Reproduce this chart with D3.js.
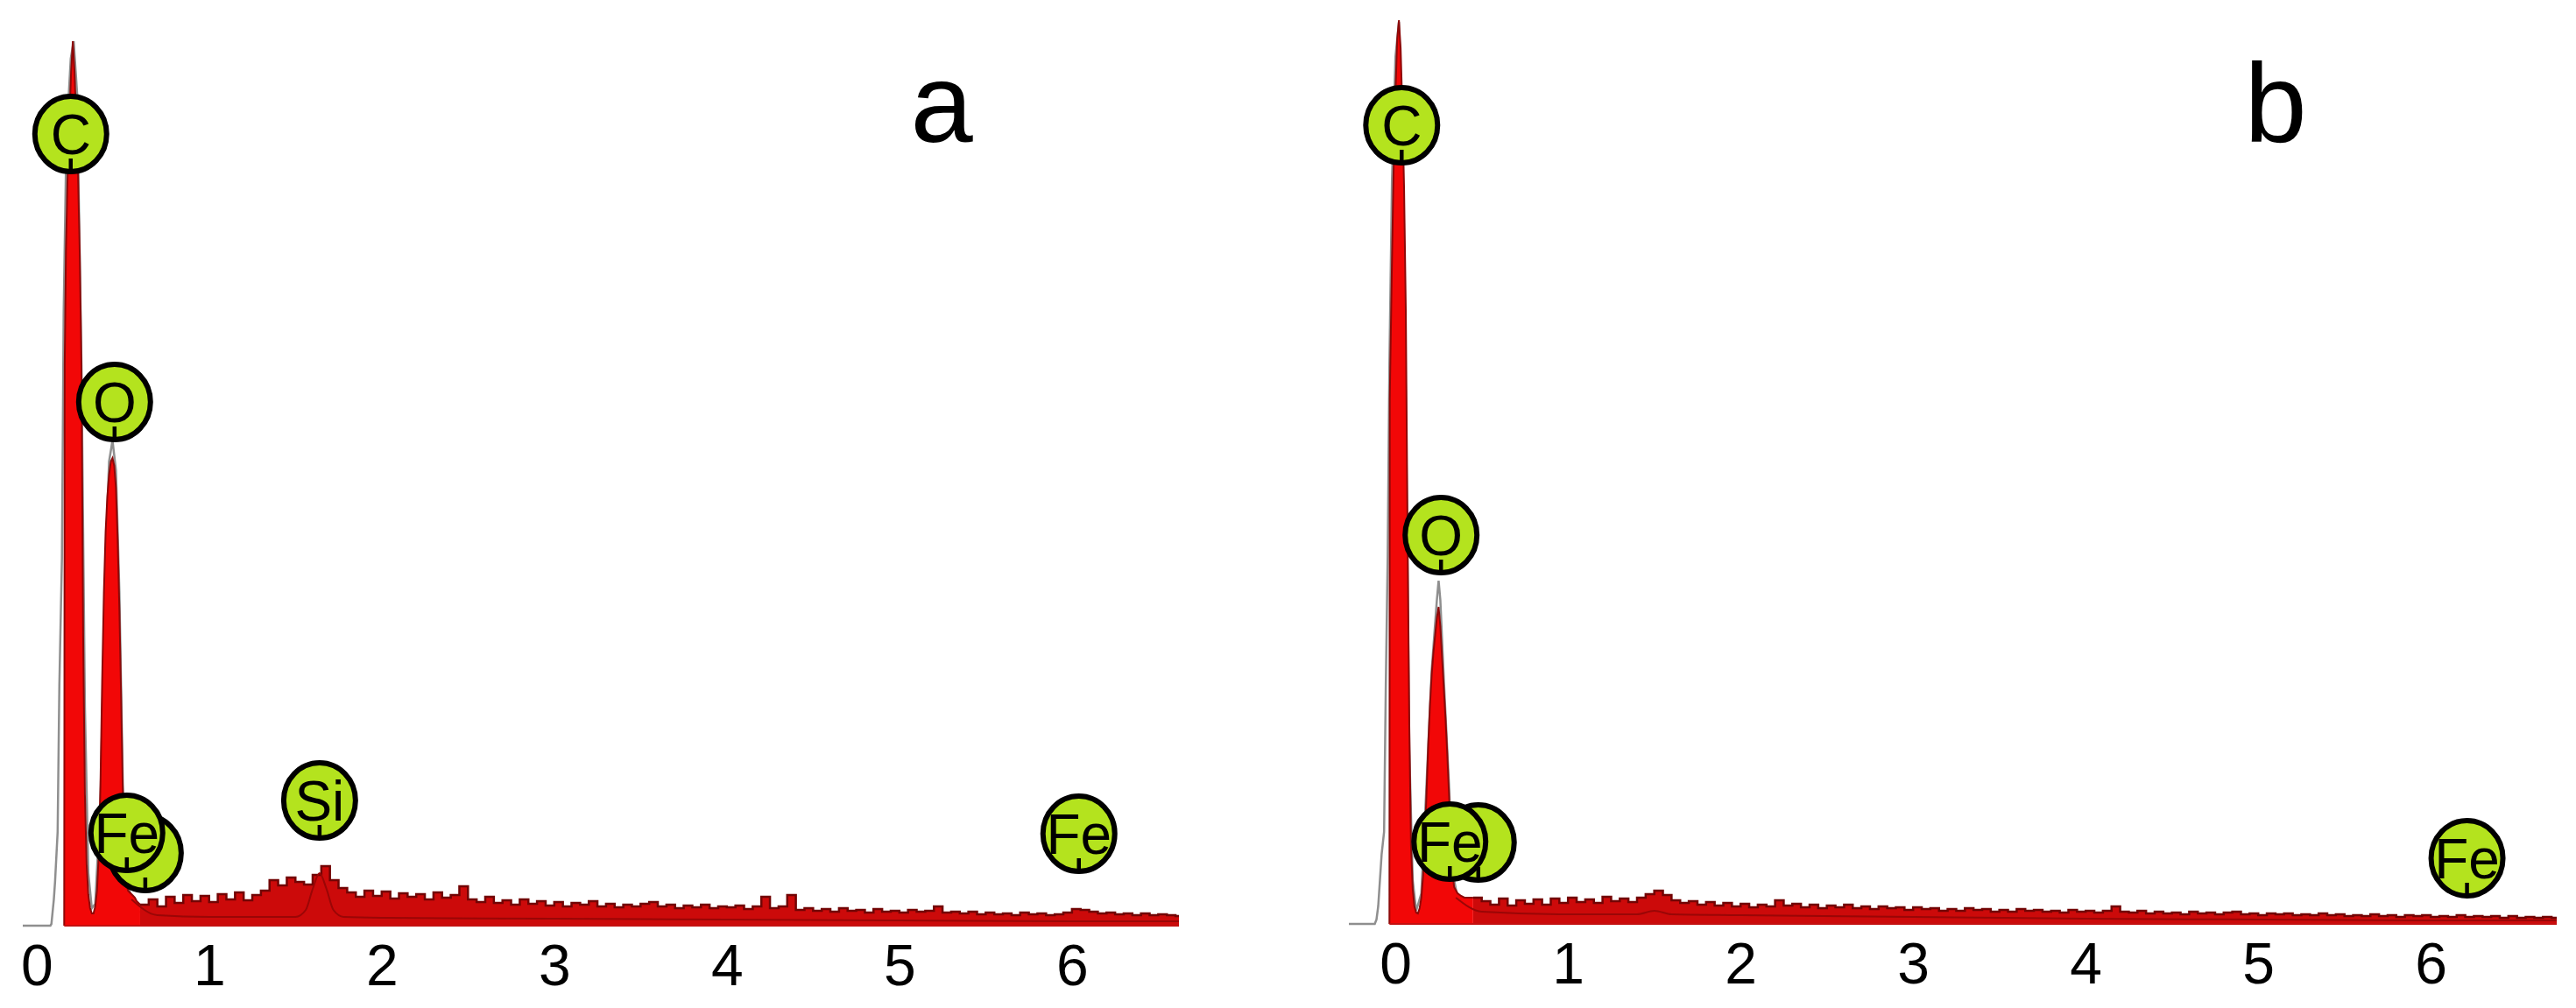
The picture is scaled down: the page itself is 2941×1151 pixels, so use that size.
<!DOCTYPE html>
<html>
<head>
<meta charset="utf-8">
<script src="https://cdn.jsdelivr.net/npm/d3@7"></script>
<style>
html,body{margin:0;padding:0;background:#fff;}
svg{display:block;}
</style>
</head>
<body>
<svg id="chart" width="2941" height="1151"></svg>
<script>
// ---------------- DATA ----------------
const tickValues = [0, 1, 2, 3, 4, 5, 6];
const tickLabels = ["0", "1", "2", "3", "4", "5", "6"];
const panelLetters = ["a", "b"];

// Panel a: peak region (keV, counts)
const peakA_E = [0.160,0.163,0.17,0.18,0.19,0.20,0.21,0.22,0.23,0.24,0.25,0.26,0.27,0.28,0.29,0.30,0.31,0.32,0.33,0.34,0.35,0.36,0.37,0.38,0.39,0.40,0.41,0.42,0.43,0.44,0.45,0.46,0.47,0.48,0.49,0.50,0.51,0.52,0.53,0.54,0.55,0.56,0.57,0.58,0.60];
const peakA_C = [0,640,770,860,920,975,1010,975,920,860,770,640,330,150,70,35,20,14,14,22,40,80,160,280,380,450,490,515,530,534,525,500,440,360,260,150,80,50,40,38,36,34,32,28,24];
// Panel a: background channels from 0.60 keV, 0.05 keV wide
const noiseA_start = 0.60, noiseA_end = 6.62;
const noiseA_C = [24,30,22,33,26,35,28,34,27,36,30,38,29,35,40,52,46,55,50,47,58,68,52,43,38,33,40,34,39,31,37,33,36,30,38,32,35,45,30,27,33,26,29,24,30,25,28,23,27,22,26,24,28,22,25,21,24,22,25,27,22,24,20,23,21,24,20,22,21,23,19,22,33,20,22,35,18,20,17,19,16,20,17,18,15,19,16,17,15,18,16,17,22,15,16,14,16,13,15,13,14,12,15,13,14,12,13,15,19,18,16,14,15,13,14,12,14,12,13,12,11];
// Panel a: grey reference trace
const greyA_E = [-0.08,0.08,0.086,0.10,0.107,0.122,0.132,0.147,0.157,0.173,0.198,0.215,0.235,0.26,0.28,0.30,0.32,0.34,0.37,0.40,0.42,0.44,0.46,0.48,0.50,0.53,0.57,0.60];
const greyA_C = [0,0,2,30,50,107,274,420,700,900,990,1010,950,640,250,60,20,25,140,420,530,554,520,380,160,45,20,15];
// Panel a: fitted background line
const fitA_E = [0.55,0.70,1.00,1.30,1.50,1.56,1.60,1.64,1.68,1.72,1.78,2.00,3.00,4.00,5.00,6.00,6.62];
const fitA_C = [30,12,10,10,10,18,42,60,42,18,10,9,8,7,6,5,5];

// Panel b: peak region
const peakB_E = [-0.035,-0.033,-0.02,-0.01,0.00,0.01,0.02,0.03,0.04,0.05,0.06,0.07,0.08,0.09,0.10,0.11,0.12,0.13,0.14,0.15,0.16,0.17,0.18,0.19,0.20,0.21,0.22,0.23,0.24,0.25,0.26,0.27,0.28,0.29,0.30,0.31,0.32,0.33,0.34,0.36,0.38,0.40,0.45];
const peakB_C = [0,600,760,870,950,1010,1032,1000,930,840,700,450,230,90,40,20,13,12,18,30,55,95,150,205,250,285,310,330,350,362,340,305,270,235,195,150,100,60,42,35,32,30,30];
const noiseB_start = 0.45, noiseB_end = 6.73;
const noiseB_C = [30,26,22,29,21,27,23,28,22,29,24,30,25,28,24,31,26,29,25,30,34,38,33,27,24,26,22,25,21,24,20,23,19,22,20,27,21,23,19,22,18,21,19,22,18,20,17,20,18,19,16,19,17,18,15,17,15,18,16,17,14,16,14,17,15,16,14,15,13,16,14,15,13,15,20,14,13,15,12,14,12,13,11,14,12,13,11,13,14,11,12,10,12,11,12,10,11,10,12,10,11,9,10,9,11,9,10,8,10,9,10,8,9,8,10,8,9,8,9,7,9,7,8,7,8,7];
const greyB_E = [-0.27,-0.12,-0.11,-0.10,-0.09,-0.08,-0.066,-0.056,-0.045,-0.035,-0.02,0.00,0.02,0.04,0.06,0.08,0.10,0.12,0.15,0.18,0.21,0.24,0.25,0.26,0.28,0.31,0.33,0.36,0.40];
const greyB_C = [0,0,5,20,50,80,105,272,420,640,850,990,1030,900,600,200,50,15,35,160,290,370,392,370,280,160,60,30,25];
const fitB_E = [0.35,0.50,1.00,1.40,1.50,1.60,2.00,3.00,4.00,5.00,6.00,6.73];
const fitB_C = [30,14,11,11,15,11,10,8,6,5,4,4];

// Element markers: element, energy (keV), count level of marker foot
const markA_el = ["C","O","","Fe","Si","Fe"];
const markA_E  = [0.198,0.452,0.63,0.523,1.64,6.04];
const markA_C  = [858,552,37,60,97,59];
const markB_el = ["C","O","","Fe","Fe"];
const markB_E  = [0.036,0.264,0.48,0.315,6.21];
const markB_C  = [866,398,47,48,29];

// ---------------- DRAW ----------------
const svg = d3.select("#chart");
const FONT = "'Liberation Sans', Arial, Helvetica, sans-serif";

const panels = [
  {letter: panelLetters[0], dom: [-0.08, 6.62], rng: [26, 1346], base: 1057, letterX: 1075,
   peakE: peakA_E, peakC: peakA_C, nStart: noiseA_start, nEnd: noiseA_end, noise: noiseA_C,
   greyE: greyA_E, greyC: greyA_C, fitE: fitA_E, fitC: fitA_C,
   mEl: markA_el, mE: markA_E, mC: markA_C},
  {letter: panelLetters[1], dom: [-0.27, 6.73], rng: [1540, 2919], base: 1055, letterX: 2598,
   peakE: peakB_E, peakC: peakB_C, nStart: noiseB_start, nEnd: noiseB_end, noise: noiseB_C,
   greyE: greyB_E, greyC: greyB_C, fitE: fitB_E, fitC: fitB_C,
   mEl: markB_el, mE: markB_E, mC: markB_C}
];

panels.forEach(p => {
  const x = d3.scaleLinear().domain(p.dom).range(p.rng);
  const y = d3.scaleLinear().domain([0, 1000]).range([p.base, p.base - 1000]);
  const g = svg.append("g");

  const peakPts = p.peakE.map((e, i) => [e, p.peakC[i]]);
  const noisePts = p.noise.map((c, i) => [p.nStart + i * 0.05, c]);
  noisePts.push([p.nEnd, p.noise[p.noise.length - 1]]);
  const greyPts = p.greyE.map((e, i) => [e, p.greyC[i]]);
  const fitPts = p.fitE.map((e, i) => [e, p.fitC[i]]);

  // grey trace (behind)
  g.append("path")
    .attr("d", d3.line().x(d => x(d[0])).y(d => y(d[1]))(greyPts))
    .attr("fill", "none").attr("stroke", "#8f8f8f").attr("stroke-width", 2.5);

  const area = d3.area().x(d => x(d[0])).y0(p.base).y1(d => y(d[1]));
  const areaStep = d3.area().curve(d3.curveStepAfter).x(d => x(d[0])).y0(p.base).y1(d => y(d[1]));
  const line = d3.line().x(d => x(d[0])).y(d => y(d[1]));
  const lineStep = d3.line().curve(d3.curveStepAfter).x(d => x(d[0])).y(d => y(d[1]));

  // background band (noise)
  g.append("path").attr("d", areaStep(noisePts)).attr("fill", "#cc0a0a");
  g.append("path").attr("d", lineStep(noisePts)).attr("fill", "none")
    .attr("stroke", "#720404").attr("stroke-width", 2.5);
  // peaks
  g.append("path").attr("d", area(peakPts)).attr("fill", "#f20707");
  g.append("path").attr("d", line(peakPts)).attr("fill", "none")
    .attr("stroke", "#8e0808").attr("stroke-width", 2);
  // fitted line
  g.append("path")
    .attr("d", d3.line().curve(d3.curveMonotoneX).x(d => x(d[0])).y(d => y(d[1]))(fitPts))
    .attr("fill", "none").attr("stroke", "#9a0606").attr("stroke-width", 2);
  // thin baseline rim
  g.append("line").attr("x1", x(p.peakE[0])).attr("x2", p.rng[1])
    .attr("y1", p.base).attr("y2", p.base).attr("stroke", "#c41010").attr("stroke-width", 2);

  // axis labels only
  const axis = d3.axisBottom(x).tickValues(tickValues).tickFormat((d, i) => tickLabels[i]).tickSize(0).tickPadding(0);
  const ax = g.append("g").attr("transform", `translate(0,${p.base})`).call(axis);
  ax.select(".domain").remove();
  ax.selectAll("text")
    .attr("font-family", FONT).attr("font-size", 66).attr("fill", "#000")
    .attr("dy", null).attr("y", 68);

  // element markers
  const RX = 41, RY = 43;
  p.mEl.forEach((el, i) => {
    const mg = g.append("g").attr("transform", `translate(${x(p.mE[i])},${y(p.mC[i])})`);
    const cy = -(RY + 3);
    mg.append("ellipse").attr("cx", 0).attr("cy", cy).attr("rx", RX).attr("ry", RY)
      .attr("fill", "#b4e31e").attr("stroke", "#000").attr("stroke-width", 6);
    mg.append("line").attr("x1", 0).attr("x2", 0).attr("y1", -1).attr("y2", -18)
      .attr("stroke", "#000").attr("stroke-width", 4.5);
    if (el) {
      mg.append("text").attr("x", 0).attr("y", cy + 23).attr("text-anchor", "middle")
        .attr("font-family", FONT).attr("font-size", 64).attr("fill", "#000").text(el);
    }
  });

  // panel letter
  g.append("text").attr("x", p.letterX).attr("y", 162).attr("text-anchor", "middle")
    .attr("font-family", FONT).attr("font-size", 128).attr("fill", "#000").text(p.letter);
});
</script>
</body>
</html>
